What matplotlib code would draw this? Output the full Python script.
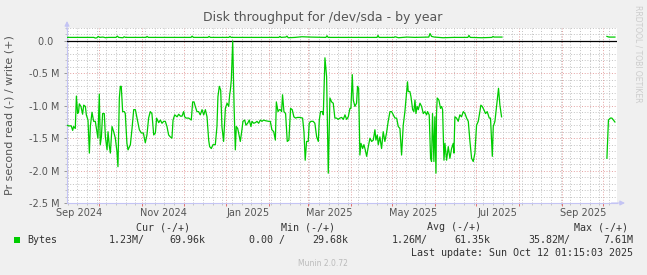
import numpy as np
import matplotlib
matplotlib.use("Agg")
import matplotlib.pyplot as plt
import matplotlib.dates as mdates
from matplotlib.ticker import MultipleLocator, FuncFormatter

# ---------------- data ----------------
title = "Disk throughput for /dev/sda - by year"
ylabel = "Pr second read (-) / write (+)"
start_date = "2024-09-07T12:00"
span_days = 398.3

# read (-) series, in M bytes/s, days since start_date
read_days = [0, 1.2, 3.1, 4.1, 4.8, 6.0, 6.8, 7.7, 8.4, 8.9, 10.1, 11.3, 12.1, 13.3, 14.0, 15.2, 16.2, 16.9,
             18.1, 19.3, 20.5, 21.7, 22.4, 23.4, 24.1, 24.9, 25.8, 27.0, 27.8, 29.0, 29.7, 30.7, 31.4, 32.6,
             33.8, 35.0, 36.2, 36.9, 37.9, 38.6, 39.3, 40.3, 41.5, 42.2, 43.4, 44.2, 45.9, 47.1, 48.3, 49.5,
             50.7, 52.4, 53.8, 55.3, 56.7, 57.9, 59.1, 60.3, 61.5, 62.8, 64.0, 64.9, 66.4, 67.6, 68.8, 70.0,
             71.2, 72.4, 73.6, 74.8, 76.0, 76.8, 78.0, 79.7, 80.9, 82.1, 83.3, 84.5, 85.2, 86.2, 88.1, 89.3,
             90.0, 91.0, 92.0, 92.9, 94.1, 95.3, 96.5, 97.8, 99.0, 100.2, 101.4, 102.6, 103.3, 104.5, 105.7,
             107.4, 108.6, 109.3, 110.3, 111.3, 112.2, 113.4, 114.7, 115.9, 117.1, 117.8, 118.3, 119.0, 120.0,
             121.0, 121.9, 122.6, 123.6, 124.3, 125.5, 126.7, 127.4, 128.7, 129.6, 130.8, 132.0, 133.2, 134.0,
             135.2, 136.4, 137.6, 138.8, 140.0, 141.2, 142.4, 143.6, 146.0, 147.2, 148.4, 149.7, 150.9, 151.6,
             152.8, 153.8, 154.5, 155.4, 156.1, 157.1, 158.3, 159.5, 160.7, 161.9, 163.1, 164.3, 165.5, 166.8,
             168.7, 170.6, 171.6, 172.5, 173.5, 174.7, 175.4, 176.6, 178.3, 179.5, 180.8, 182.0, 182.7, 183.6,
             184.9, 185.6, 186.3, 186.8, 188.0, 189.2, 190.4, 191.6, 192.8, 194.0, 195.2, 196.4, 197.6, 198.9,
             200.1, 201.3, 202.5, 203.7, 204.9, 205.6, 206.6, 207.3, 208.5, 209.7, 210.4, 211.2, 212.1, 212.9,
             214.1, 215.0, 216.0, 217.0, 218.2, 219.4, 220.6, 221.8, 223.0, 223.7, 224.7, 225.4, 226.6, 227.8,
             229.0, 230.2, 231.4, 232.6, 233.9, 235.1, 236.3, 237.5, 238.7, 239.9, 241.1, 242.3, 243.5, 244.7,
             245.9, 246.6, 247.1, 248.3, 249.1, 250.3, 251.2, 252.0, 252.7, 253.6, 254.4, 255.6, 256.8, 258.0,
             259.2, 260.4, 261.1, 262.3, 263.3, 264.0, 264.7, 265.7, 266.4, 267.2, 267.6, 268.1, 269.3, 270.5,
             271.3, 272.0, 273.0, 273.7, 274.9, 276.1, 277.3, 278.5, 279.7, 280.2, 280.9, 282.1, 283.3, 284.5,
             285.7, 287.0, 288.2, 289.4, 290.6, 291.8, 293.0, 294.2, 295.4, 296.6, 297.8, 299.0, 299.7, 300.7,
             301.9, 303.1, 304.3, 305.8, 306.7, 308.0, 308.7, 309.9, 311.1, 311.8, 312.5, 313.5, 314.7,
             315.5,
             391.0, 392.1, 393.5, 394.6, 396.8]
read_vals = [-1.30, -1.31, -1.31, -1.38, -1.32, -1.35, -0.85, -1.12, -1.09, -0.97, -1.01, -1.13, -0.99, -1.01,
             -1.14, -1.22, -1.73, -1.32, -1.10, -1.24, -1.24, -1.40, -1.50, -0.82, -1.60, -1.48, -1.12, -1.12,
             -1.48, -1.68, -1.40, -1.63, -1.73, -1.32, -1.40, -1.50, -1.71, -1.94, -0.88, -0.70, -0.70, -1.09,
             -1.09, -1.12, -1.58, -1.68, -1.60, -1.35, -1.06, -1.06, -1.19, -1.37, -1.42, -1.42, -1.57, -1.45,
             -1.19, -1.09, -1.12, -1.45, -1.42, -1.19, -1.26, -1.22, -1.27, -1.24, -1.24, -1.32, -1.45, -1.48,
             -1.50, -1.22, -1.14, -1.17, -1.13, -1.16, -1.16, -1.09, -1.17, -1.19, -1.19, -1.21, -1.22, -0.94,
             -0.94, -1.01, -1.09, -1.09, -1.14, -1.06, -1.14, -1.06, -1.17, -1.53, -1.63, -1.66, -1.60, -1.60,
             -1.32, -0.86, -0.70, -0.76, -1.32, -1.55, -1.04, -0.96, -1.01, -0.83, -0.76, -0.60, 0.0, -1.01,
             -1.68, -1.32, -1.35, -1.42, -1.55, -1.37, -1.24, -1.22, -1.30, -1.27, -1.22, -1.32, -1.24, -1.27,
             -1.26, -1.24, -1.27, -1.22, -1.24, -1.22, -1.23, -1.24, -1.24, -1.37, -1.40, -1.53, -0.94, -1.09,
             -1.06, -1.06, -1.09, -0.83, -1.09, -1.12, -1.55, -1.53, -1.04, -1.06, -1.17, -1.19, -1.18, -1.18,
             -1.19, -1.40, -1.84, -1.55, -1.55, -1.27, -1.24, -1.24, -1.27, -1.48, -1.55, -1.22, -1.09, -1.09,
             -1.14, -0.65, -0.26, -0.55, -2.04, -0.88, -0.94, -0.96, -1.19, -1.19, -1.21, -1.19, -1.18, -1.21,
             -1.14, -1.21, -1.17, -1.04, -1.04, -0.52, -0.91, -1.01, -0.96, -0.70, -0.73, -1.76, -1.58, -1.66,
             -1.60, -1.68, -1.78, -1.63, -1.50, -1.55, -1.53, -1.37, -1.53, -1.45, -1.60, -1.48, -1.66, -1.40,
             -1.55, -1.42, -1.24, -1.09, -1.09, -1.14, -1.19, -1.19, -1.32, -1.35, -1.76, -1.30, -1.09, -0.81,
             -0.63, -0.78, -0.78, -0.86, -1.06, -1.09, -0.91, -1.12, -1.01, -1.06, -0.96, -1.01, -1.12, -1.09,
             -1.14, -1.09, -1.14, -1.81, -1.86, -1.12, -1.86, -1.17, -2.04, -1.12, -0.88, -0.91, -1.04, -1.01,
             -1.06, -1.84, -1.58, -1.84, -1.63, -1.81, -1.66, -1.58, -1.73, -1.17, -1.19, -1.24, -1.14, -1.17,
             -1.09, -1.12, -1.19, -1.24, -1.55, -1.81, -1.86, -1.73, -1.30, -1.24, -1.09, -0.99, -1.01, -1.06,
             -1.12, -1.09, -1.19, -1.19, -1.78, -1.32, -1.24, -1.01, -0.88, -0.73, -0.99, -1.17,
             np.nan,
             -1.81, -1.22, -1.19, -1.19, -1.25]

# write (+) series, in M bytes/s
write_days = [0, 19.5, 20.5, 21.7, 22.6, 23.6, 26.0, 28.0, 30.0, 35.5, 36.4, 37.4, 40.5, 41.4, 42.4, 57.2,
              58.0, 58.9, 89.8, 90.6, 91.5, 102.0, 102.9, 103.8, 117.2, 118.0, 118.9, 153.4, 154.2, 155.0,
              158.5, 159.3, 160.2, 165.0, 170.2, 176.0, 187.5, 188.3, 189.1, 224.5, 225.2, 226.0, 236.8,
              237.5, 240.0, 246.2, 252.0, 262.0, 262.9, 264.0, 266.0, 272.3, 280.0, 290.3, 291.1, 292.0,
              300.5, 307.7, 308.5, 309.3, 315.0, 315.5, 391.0, 392.5, 396.8]
write_vals = [0.055, 0.055, 0.045, 0.05, 0.07, 0.055, 0.06, 0.05, 0.055, 0.055, 0.075, 0.055, 0.05, 0.065,
              0.055, 0.055, 0.07, 0.055, 0.055, 0.075, 0.055, 0.055, 0.07, 0.055, 0.055, 0.07, 0.055, 0.055,
              0.07, 0.055, 0.06, 0.075, 0.05, 0.055, 0.065, 0.06, 0.055, 0.08, 0.055, 0.055, 0.085, 0.055,
              0.055, 0.065, 0.05, 0.06, 0.055, 0.06, 0.115, 0.07, 0.06, 0.05, 0.055, 0.055, 0.085, 0.055,
              0.05, 0.055, 0.07, 0.06, 0.06, np.nan, 0.07, 0.06, 0.06]

month_labels = ["Sep 2024", "Nov 2024", "Jan 2025", "Mar 2025", "May 2025", "Jul 2025", "Sep 2025"]
label_months = ["2024-09-16T12:00", "2024-11-16T00:00", "2025-01-16T12:00", "2025-03-16T12:00",
                "2025-05-16T12:00", "2025-07-16T12:00", "2025-09-16T00:00"]
yticks = [-2.5, -2.0, -1.5, -1.0, -0.5, 0.0]

legend_headers = ["Cur (-/+)", "Min (-/+)", "Avg (-/+)", "Max (-/+)"]
legend_name = "Bytes"
legend_values = ["1.23M/", "69.96k", "0.00 /", "29.68k", "1.26M/", "61.35k", "35.82M/", "7.61M"]
last_update = "Last update: Sun Oct 12 01:15:03 2025"
version = "Munin 2.0.72"
watermark = "RRDTOOL / TOBI OETIKER"

# ---------------- drawing ----------------
W, H = 647, 275
def fx(x):
    return x / W
def fy(y):
    return 1 - y / H

GREEN = "#00cc00"
TXT = "#555555"
AXC = "#c4c4f4"

fig = plt.figure(figsize=(W / 100, H / 100), dpi=100, facecolor="#f0f0f0")
ax = fig.add_axes([fx(67), fy(203), (617 - 67) / W, (203 - 28) / H])
ax.set_facecolor("white")

t0 = np.datetime64(start_date)
def to_dates(days):
    return t0 + (np.asarray(days) * 86400).astype("timedelta64[s]")

x0 = t0
x1 = t0 + np.timedelta64(int(span_days * 86400), "s")
ax.set_xlim(x0, x1)
ax.set_ylim(-2.5, 0.2)

# grid
ax.xaxis.set_major_locator(mdates.MonthLocator())
ax.xaxis.set_minor_locator(mdates.WeekdayLocator(byweekday=mdates.SU))
ax.yaxis.set_major_locator(MultipleLocator(0.5))
ax.yaxis.set_minor_locator(MultipleLocator(0.1))
ax.grid(which="minor", color="#c2c2c2", lw=0.7, ls=(0, (1, 1.8)))
ax.grid(which="major", color="#e4a0a0", lw=0.7, ls=(0, (1, 1.8)))
ax.set_axisbelow(True)

ax.set_yticks(yticks)
ax.yaxis.set_major_formatter(FuncFormatter(lambda v, p: "0.0  " if abs(v) < 1e-9 else f"{v:.1f} M"))
ax.tick_params(axis="y", which="major", length=2, width=0.7, color="#999999", pad=3.5, labelsize=7, labelcolor=TXT)
ax.tick_params(axis="y", which="minor", length=1.2, width=0.6, color="#bbbbbb")
ax.tick_params(axis="x", which="major", length=2.5, width=0.7, color="#e07070", labelbottom=False)
ax.tick_params(axis="x", which="minor", length=1.5, width=0.6, color="#bbbbbb", labelbottom=False)

for s in ["top", "right"]:
    ax.spines[s].set_visible(False)
for s in ["left", "bottom"]:
    ax.spines[s].set_color(AXC)
    ax.spines[s].set_linewidth(0.8)

# axis arrows
ax.annotate("", xy=(1.0 + 8 / 550, 0), xytext=(0.99, 0), xycoords="axes fraction",
            arrowprops=dict(arrowstyle="-|>", color=AXC, lw=0.8, mutation_scale=7, shrinkA=0, shrinkB=0))
ax.annotate("", xy=(0, 1.0 + 7 / 175), xytext=(0, 0.99), xycoords="axes fraction",
            arrowprops=dict(arrowstyle="-|>", color=AXC, lw=0.8, mutation_scale=7, shrinkA=0, shrinkB=0))

# month labels
trans = ax.get_xaxis_transform()
for lab, m in zip(month_labels, label_months):
    ax.text(np.datetime64(m), -9.5 / 175, lab, transform=trans, ha="center", va="center",
            fontsize=7, color=TXT, clip_on=False)

# zero line
ax.axhline(0, color="black", lw=0.9, zorder=3)

# series
ax.plot(to_dates(write_days), write_vals, color=GREEN, lw=0.9, zorder=4)
ax.plot(to_dates(read_days), read_vals, color=GREEN, lw=0.9, zorder=4)

# texts
fig.text(fx(323), fy(18), title, ha="center", va="center", fontsize=9, color=TXT)
fig.text(fx(10), fy(115), ylabel, ha="center", va="center", rotation=90, fontsize=8, color=TXT)
fig.text(fx(638), fy(5), watermark, ha="center", va="top", rotation=270, fontsize=5.5, color="#cccccc")

mono = "DejaVu Sans Mono"
LC = "#333333"
hdr_right = [190, 335, 481, 628]
for h, xr in zip(legend_headers, hdr_right):
    fig.text(fx(xr), fy(227), h, ha="right", va="center", fontsize=7.2, family=mono, color=LC)
fig.patches.append(plt.Rectangle((fx(14), fy(243)), 6 / W, 6 / H, transform=fig.transFigure,
                                 facecolor=GREEN, edgecolor="none"))
fig.text(fx(27), fy(240), legend_name, ha="left", va="center", fontsize=7.2, family=mono, color=LC)
val_right = [145, 205, 285, 348, 428, 490, 570, 633]
for v, xr in zip(legend_values, val_right):
    fig.text(fx(xr), fy(240), v, ha="right", va="center", fontsize=7.2, family=mono, color=LC)
fig.text(fx(633), fy(253), last_update, ha="right", va="center", fontsize=7.2, family=mono, color=LC)
fig.text(fx(323), fy(264), version, ha="center", va="center", fontsize=5.5, color="#bbbbbb")

fig.savefig("out.png", dpi=100, facecolor=fig.get_facecolor())
